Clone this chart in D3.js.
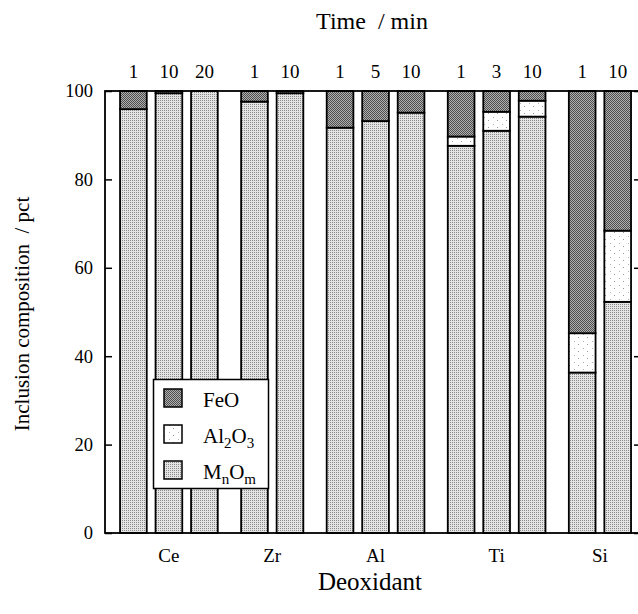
<!DOCTYPE html>
<html><head><meta charset="utf-8">
<script src="https://cdn.jsdelivr.net/npm/d3@7"></script>
<style>body{margin:0;background:#fff}svg{display:block}text{font-family:"Liberation Serif","Times New Roman",serif;fill:#000}</style>
</head><body><svg id="c" width="638" height="614"></svg>
<script>
// ---- data ----
const deoxidants = ["Ce","Zr","Al","Ti","Si"];
const times = [[1,10,20],[1,10],[1,5,10],[1,3,10],[1,10]];
const mnom  = [[95.9,99.5,100],[97.6,99.5],[91.7,93.2,95.1],[87.6,91.0,94.2],[36.3,52.3]];
const al2o3 = [[0,0,0],[0,0],[0,0,0],[2.1,4.3,3.6],[8.9,16.1]];
const feo   = [[4.1,0.5,0],[2.4,0.5],[8.3,6.8,4.9],[10.3,4.7,2.2],[54.8,31.6]];
const yTicks = [0,20,40,60,80,100];
const legendItems = [{key:"feo",label:["FeO"]},{key:"al",label:["Al","2","O","3"]},{key:"mn",label:["M","n","O","m"]}];

// ---- layout ----
const svg = d3.select("#c");
const L=105, R=639, T=91, B=533;
const groupGap = 0.41, barW = 0.752;
const bars = [];
let k = 0;
deoxidants.forEach((d,gi)=>{
  times[gi].forEach((t,j)=>{
    bars.push({g:gi, t, pos:k+gi*groupGap, mn:mnom[gi][j], al:al2o3[gi][j], fe:feo[gi][j]});
    k++;
  });
});
const x = d3.scaleLinear().domain([-0.8, 14.24]).range([L,R]);
const y = d3.scaleLinear().domain([0,100]).range([B,T]);

// patterns
const defs = svg.append("defs");
function pat(id, w, h, bg, dots){
  const p = defs.append("pattern").attr("id",id).attr("patternUnits","userSpaceOnUse").attr("width",w).attr("height",h);
  p.append("rect").attr("width",w).attr("height",h).attr("fill",bg);
  dots.forEach(d=>p.append("rect").attr("x",d[0]).attr("y",d[1]).attr("width",1).attr("height",1).attr("fill",d[2]));
}
pat("pFe",2,2,"#b0b0b0",[[0,0,"#4e4e4e"],[1,1,"#4e4e4e"]]);
pat("pMn",2,2,"#e4e4e4",[[0,0,"#8a8a8a"]]);
pat("pAl",9,7,"#ffffff",[[2,1,"#9a9a9a"],[7,5,"#b0b0b0"]]);
const fills = {mn:"url(#pMn)", al:"url(#pAl)", feo:"url(#pFe)", fe:"url(#pFe)"};

// bars
const bw = x(barW)-x(0);
const gBars = svg.append("g");
bars.forEach(b=>{
  const x0 = x(b.pos)-bw/2;
  const segs = [["mn",0,b.mn],["al",b.mn,b.mn+b.al],["fe",b.mn+b.al,b.mn+b.al+b.fe]];
  segs.forEach(s=>{
    if (s[2]-s[1] <= 0) return;
    gBars.append("rect").attr("x",x0).attr("y",y(s[2])).attr("width",bw).attr("height",y(s[1])-y(s[2]))
      .attr("fill",fills[s[0]]).attr("stroke","#000").attr("stroke-width",1.8);
  });
});

// axes frame
svg.append("rect").attr("x",L).attr("y",T).attr("width",R-L).attr("height",B-T).attr("fill","none").attr("stroke","#000").attr("stroke-width",1.8);
const yAxisL = d3.axisLeft(y).tickValues(yTicks).tickSize(-7).tickPadding(12);
const ga = svg.append("g").attr("transform",`translate(${L},0)`).call(yAxisL);
ga.select(".domain").remove();
ga.selectAll("line").attr("stroke","#000").attr("stroke-width",1.5);
ga.selectAll("text").style("font-family",'"Liberation Serif",serif').style("font-size","18.5px").attr("fill","#000");
const gr = svg.append("g").attr("transform",`translate(${R},0)`).call(d3.axisRight(y).tickValues(yTicks).tickSize(-5).tickFormat(""));
gr.select(".domain").remove();
gr.selectAll("line").attr("stroke","#000").attr("stroke-width",1.5);

// top time labels
svg.append("g").selectAll("text").data(bars).join("text")
  .attr("x",b=>x(b.pos)).attr("y",78).attr("text-anchor","middle").style("font-size","19px").text(b=>b.t);

// category labels
svg.append("g").selectAll("text").data(deoxidants).join("text")
  .attr("x",(d,gi)=>{const bs=bars.filter(b=>b.g===gi);return (x(bs[0].pos)+x(bs[bs.length-1].pos))/2;})
  .attr("y",562).attr("text-anchor","middle").style("font-size","19px").text(d=>d);

// titles
svg.append("text").attr("x",372).attr("y",29).attr("text-anchor","middle").style("font-size","24px").attr("xml:space","preserve").text("Time  / min");
svg.append("text").attr("x",370).attr("y",590).attr("text-anchor","middle").style("font-size","25px").text("Deoxidant");
svg.append("text").attr("transform","translate(29,314) rotate(-90)").attr("text-anchor","middle").style("font-size","21px").attr("xml:space","preserve").text("Inclusion composition  / pct");

// legend
const lg = svg.append("g");
lg.append("rect").attr("x",153.5).attr("y",379.5).attr("width",115).attr("height",109).attr("fill","#fff").attr("stroke","#000").attr("stroke-width",1.5);
legendItems.forEach((it,i)=>{
  const yy = 389 + i*36;
  lg.append("rect").attr("x",164).attr("y",yy).attr("width",18).attr("height",18).attr("fill",fills[it.key]).attr("stroke","#000").attr("stroke-width",1.5);
  const t = lg.append("text").attr("x",203).attr("y",yy+18).style("font-size","21px");
  it.label.forEach((s,j)=>{
    const sub = j%2===1;
    t.append("tspan").attr("dy", j===0?0:(sub?5:-5)).style("font-size", sub?"15px":"21px").text(s);
  });
});
</script></body></html>
